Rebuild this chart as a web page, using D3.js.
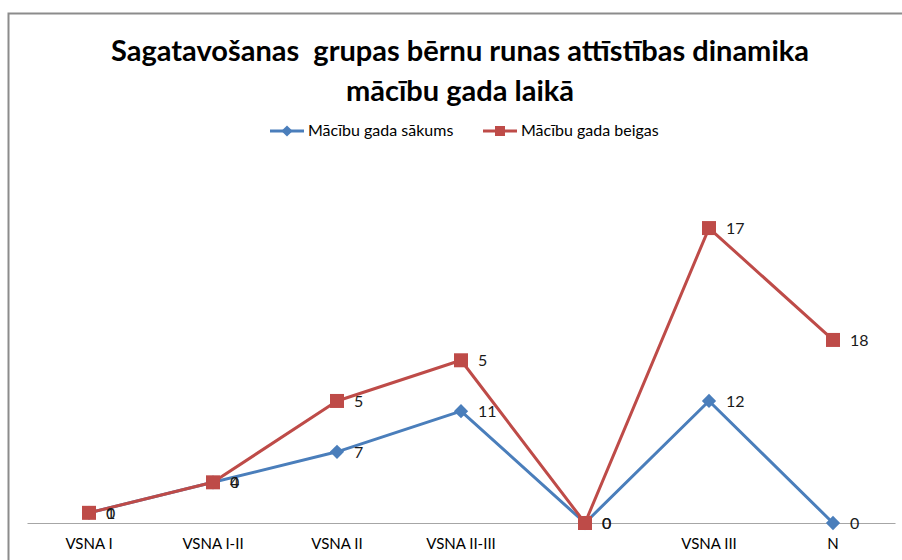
<!DOCTYPE html>
<html>
<head>
<meta charset="utf-8">
<script src="https://cdn.jsdelivr.net/npm/d3@7"></script>
<style>
  body { margin: 0; background: #fff; }
  text { font-family: Lato, "Open Sans", sans-serif; }
  .title { white-space: pre; }
</style>
</head>
<body>
<script>
// chart data
var categories = ["VSNA I", "VSNA I-II", "VSNA II", "VSNA II-III", "", "VSNA III", "N"];
var seriesNames = ["Mācību gada sākums", "Mācību gada beigas"];
var startValues = [1, 4, 7, 11, 0, 12, 0];
var endValues = [0, 0, 5, 5, 0, 17, 18];
var titleLines = ["Sagatavošanas  grupas bērnu runas attīstības dinamika", "mācību gada laikā"];

var svgWidth = 902;
var svgHeight = 560;

var svg = d3.select("body").append("svg")
    .attr("width", svgWidth)
    .attr("height", svgHeight);

// chart border (runs off the picture right and bottom)
svg.append("rect")
    .attr("x", 8.5)
    .attr("y", 13.5)
    .attr("width", 1000)
    .attr("height", 1000)
    .attr("fill", "none")
    .attr("stroke", "#8c8c8c")
    .attr("stroke-width", 2);

// title
svg.selectAll(".title")
    .data(titleLines)
    .enter()
    .append("text")
    .attr("class", "title")
    .attr("x", 460)
    .attr("y", (d, i) => 61 + i * 40)
    .attr("text-anchor", "middle")
    .attr("font-size", 29)
    .attr("font-weight", "bold")
    .attr("fill", "#000")
    .text(d => d);

// scales
var xScale = d3.scaleBand()
    .domain(d3.range(categories.length))
    .range([27, 895]);

var yScale = d3.scaleLinear()
    .domain([0, 30])
    .range([523, 523 - 30 * 10.17]);

// stacked line values
var stacked = [
    startValues.map((v, i) => ({ i: i, y: v, label: v })),
    endValues.map((v, i) => ({ i: i, y: v + startValues[i], label: v }))
];

var colors = ["#4a7ebb", "#be4b48"];

// x axis
var bottomAxis = d3.axisBottom(xScale)
    .tickSize(0)
    .tickPadding(15)
    .tickFormat(i => categories[i]);

var xAxis = svg.append("g")
    .attr("transform", "translate(0, 523)")
    .call(bottomAxis);
xAxis.select(".domain").attr("stroke", "#a6a6a6").attr("stroke-width", 1.2);
xAxis.selectAll("text")
    .attr("font-size", 15)
    .attr("fill", "#000")
    .style("font-family", "Lato, sans-serif");

var cx = i => xScale(i) + xScale.bandwidth() / 2;

var line = d3.line()
    .x(d => cx(d.i))
    .y(d => yScale(d.y));

stacked.forEach(function (series, s) {
    svg.append("path")
        .datum(series)
        .attr("fill", "none")
        .attr("stroke", colors[s])
        .attr("stroke-width", 3)
        .attr("stroke-linejoin", "round")
        .attr("d", line);
});

stacked.forEach(function (series, s) {
    var g = svg.append("g");
    if (s === 0) {
        g.selectAll("path.marker")
            .data(series)
            .enter()
            .append("path")
            .attr("class", "marker")
            .attr("d", d3.symbol().type(d3.symbolDiamond2).size(130))
            .attr("transform", d => `translate(${cx(d.i)}, ${yScale(d.y)})`)
            .attr("fill", colors[s]);
    } else {
        g.selectAll("rect")
            .data(series)
            .enter()
            .append("rect")
            .attr("x", d => cx(d.i) - 7)
            .attr("y", d => yScale(d.y) - 7)
            .attr("width", 14)
            .attr("height", 14)
            .attr("fill", colors[s]);
    }
    g.selectAll("text")
        .data(series)
        .enter()
        .append("text")
        .attr("x", d => cx(d.i) + 17)
        .attr("y", d => yScale(d.y) + 6)
        .attr("font-size", 16)
        .attr("fill", "#1a1a1a")
        .text(d => d.label);
});

// legend
var legend = svg.append("g").attr("transform", "translate(270, 131)");
var legendX = [0, 213];
seriesNames.forEach(function (name, s) {
    var item = legend.append("g").attr("transform", `translate(${legendX[s]}, 0)`);
    item.append("line")
        .attr("x1", 0).attr("x2", 34)
        .attr("stroke", colors[s])
        .attr("stroke-width", 3);
    if (s === 0) {
        item.append("path")
            .attr("d", d3.symbol().type(d3.symbolDiamond2).size(80))
            .attr("transform", "translate(17, 0)")
            .attr("fill", colors[s]);
    } else {
        item.append("rect")
            .attr("x", 12).attr("y", -5)
            .attr("width", 10).attr("height", 10)
            .attr("fill", colors[s]);
    }
    item.append("text")
        .attr("x", 38)
        .attr("y", 5)
        .attr("font-size", 16)
        .attr("fill", "#000")
        .text(name);
});
</script>
</body>
</html>
